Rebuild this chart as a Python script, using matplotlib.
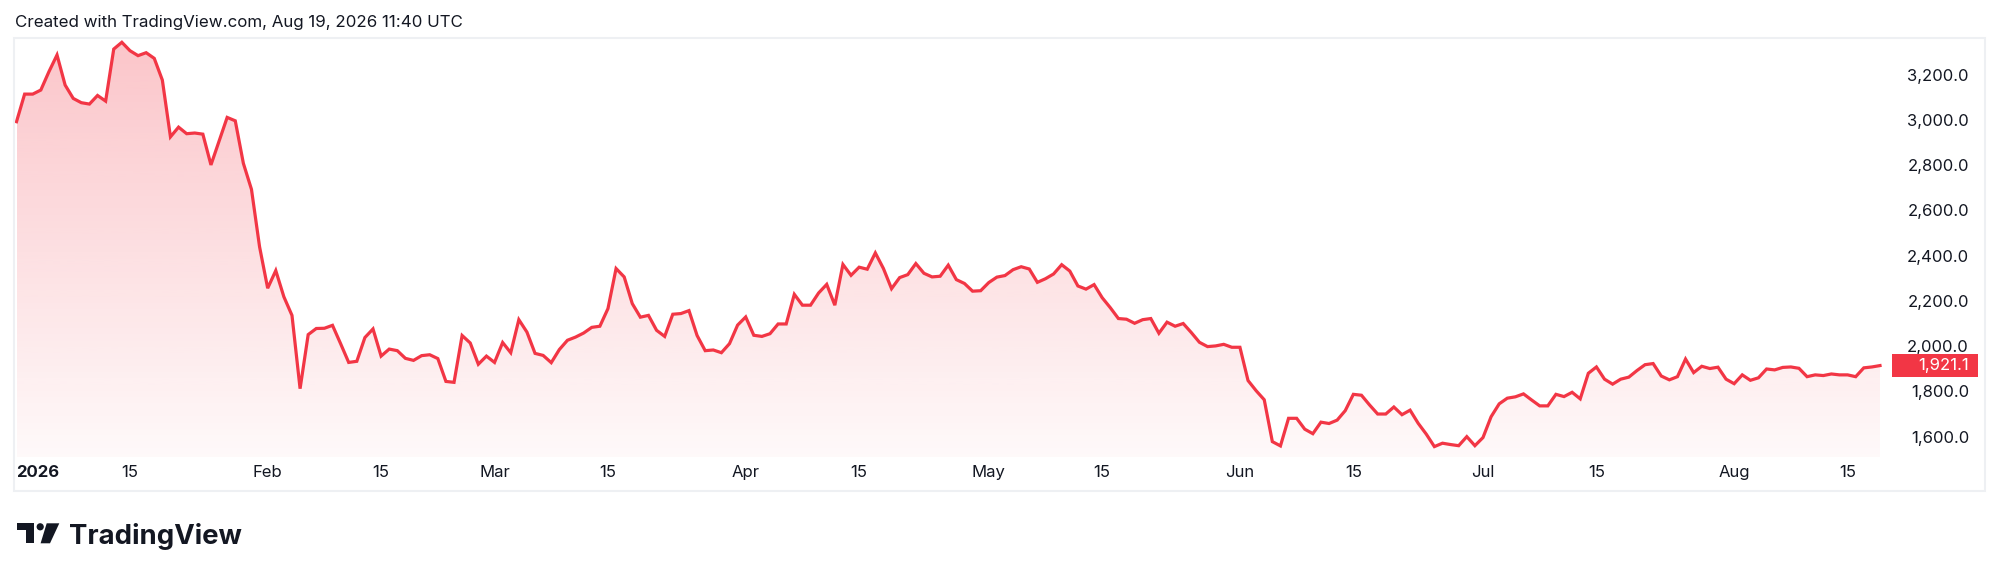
import numpy as np
import pandas as pd
import matplotlib
matplotlib.use("Agg")
import matplotlib.pyplot as plt
import matplotlib.dates as mdates
import matplotlib.transforms as mtransforms
from matplotlib.patches import Rectangle, Circle, Polygon

# daily closes, 2026-01-01 .. 2026-08-19
jan = [2999, 3121, 3121, 3139, 3220, 3294, 3161, 3102, 3083, 3077, 3115, 3090, 3320, 3350,
       3313, 3291, 3304, 3279, 3183, 2932, 2975, 2946, 2949, 2944, 2808, 2913, 3018, 3003,
       2815, 2700, 2446]
feb = [2263, 2341, 2225, 2143, 1819, 2058, 2085, 2086, 2099, 2018, 1935, 1940, 2045, 2083,
       1963, 1994, 1987, 1953, 1944, 1965, 1969, 1952, 1851, 1847, 2054, 2021, 1927, 1963]
mar = [1935, 2023, 1978, 2124, 2069, 1975, 1966, 1934, 1992, 2033, 2047, 2065, 2090, 2095,
       2173, 2350, 2313, 2195, 2135, 2143, 2077, 2050, 2148, 2151, 2164, 2054, 1987, 1990,
       1978, 2018, 2100]
apr = [2136, 2055, 2050, 2062, 2105, 2105, 2236, 2188, 2188, 2242, 2280, 2188, 2368, 2320,
       2356, 2347, 2419, 2350, 2261, 2310, 2323, 2372, 2329, 2313, 2316, 2365, 2301, 2284,
       2250, 2252]
may = [2288, 2312, 2319, 2345, 2358, 2348, 2289, 2305, 2326, 2367, 2339, 2273, 2259, 2279,
       2221, 2177, 2129, 2126, 2108, 2124, 2129, 2064, 2113, 2095, 2107, 2067, 2024, 2005,
       2008, 2015, 2002]
jun = [2002, 1855, 1810, 1770, 1585, 1566, 1688, 1688, 1640, 1620, 1671, 1665, 1680, 1722,
       1794, 1790, 1747, 1707, 1707, 1738, 1704, 1724, 1666, 1618, 1563, 1578, 1572, 1567,
       1607, 1567]
jul = [1603, 1695, 1752, 1777, 1783, 1796, 1769, 1743, 1743, 1794, 1784, 1803, 1774, 1887,
       1915, 1861, 1839, 1861, 1870, 1899, 1925, 1930, 1875, 1858, 1872, 1950, 1890, 1918,
       1908, 1914, 1861]
aug = [1841, 1880, 1856, 1867, 1906, 1902, 1913, 1915, 1909, 1872, 1880, 1877, 1884, 1880,
       1880, 1872, 1911, 1915, 1921.1]

prices = np.array(jan + feb + mar + apr + may + jun + jul + aug, dtype=float)
dates = pd.date_range("2026-01-01", periods=len(prices), freq="D")

tick_dates = ["2026-01-01", "2026-01-15", "2026-02-01", "2026-02-15", "2026-03-01",
              "2026-03-15", "2026-04-01", "2026-04-15", "2026-05-01", "2026-05-15",
              "2026-06-01", "2026-06-15", "2026-07-01", "2026-07-15", "2026-08-01",
              "2026-08-15"]
tick_labels = ["2026", "15", "Feb", "15", "Mar", "15", "Apr", "15", "May", "15",
               "Jun", "15", "Jul", "15", "Aug", "15"]
price_ticks = [1600, 1800, 2000, 2200, 2400, 2600, 2800, 3000, 3200]

RED = "#F23645"
TXT = "#131722"
plt.rcParams["font.family"] = ["Inter", "DejaVu Sans"]

W, H = 2000, 577
fig = plt.figure(figsize=(W / 100, H / 100), dpi=100)
fig.patch.set_facecolor("white")


def fx(px):
    return px / W


def fy(py):
    return 1 - py / H


ax = fig.add_axes([fx(14), fy(457), fx(1985) - fx(14), fy(38) - fy(457)])
x = mdates.date2num(dates)
ylo, yhi = 1517, 3369

ax.plot(x, prices, color=RED, lw=2.3, zorder=3, solid_joinstyle="miter")

# gradient area under the line
rgb = matplotlib.colors.to_rgb(RED)
grad = np.zeros((256, 1, 4))
grad[..., :3] = rgb
grad[..., 3] = np.linspace(0.29, 0.03, 256)[:, None]
im = ax.imshow(grad, aspect="auto", extent=[x[0], x[-1], ylo, yhi], origin="upper", zorder=1)
area = ax.fill_between(x, prices, ylo, facecolor="none", edgecolor="none")
im.set_clip_path(area.get_paths()[0], ax.transData)

ax.set_xlim(x[0] - 0.31, x[0] + 242.96)
ax.set_ylim(ylo, yhi)
for s in ax.spines.values():
    s.set_visible(False)
ax.set_yticks([])
ax.set_xticks(mdates.date2num(pd.to_datetime(tick_dates)))
ax.set_xticklabels(tick_labels, fontsize=12, color=TXT)
ax.tick_params(axis="x", length=0, pad=6)
lbls = ax.get_xticklabels()
lbls[0].set_fontweight("bold")
lbls[0].set_ha("left")

# price scale labels
tr = mtransforms.blended_transform_factory(ax.transAxes, ax.transData)
xr = (1969 - 14) / (1985 - 14)
for p in price_ticks:
    ax.text(xr, p, f"{p:,.1f}", transform=tr, ha="right", va="center",
            fontsize=12, color=TXT, zorder=4)

# last price badge
last = prices[-1]
x0b = (1892 - 14) / (1985 - 14)
x1b = (1978 - 14) / (1985 - 14)
ax.add_patch(Rectangle((x0b, last - 51), x1b - x0b, 102, transform=tr,
                       facecolor=RED, edgecolor="none", zorder=5, clip_on=False))
ax.text(xr, last, f"{last:,.1f}", transform=tr, ha="right", va="center",
        fontsize=12, color="white", zorder=6)

# overlay in pixel coordinates for header, frame and logo
ov = fig.add_axes([0, 0, 1, 1], zorder=10)
ov.set_xlim(0, W)
ov.set_ylim(H, 0)
ov.axis("off")
ov.patch.set_visible(False)
ov.add_patch(Rectangle((14, 38), 1971, 453, facecolor="none", edgecolor="#eef0f3", lw=1.5))
ov.text(15, 22, "Created with TradingView.com, Aug 19, 2026 11:40 UTC", fontsize=12.2,
        color=TXT, ha="left", va="center")

# TradingView mark
ov.add_patch(Polygon([(16.7, 523.3), (34.3, 523.3), (34.3, 543.3), (25.5, 543.3),
                      (25.5, 529.5), (16.7, 529.5)],
                     closed=True, facecolor=TXT, edgecolor="none"))
ov.add_patch(Circle((40.2, 526.8), 3.6, facecolor=TXT, edgecolor="none"))
ov.add_patch(Polygon([(46.7, 523.3), (59.3, 523.3), (50, 543.3), (40.6, 543.3)],
                     closed=True, facecolor=TXT, edgecolor="none"))
ov.text(69, 544.3, "TradingView", fontsize=19.8, fontweight="bold", color=TXT,
        ha="left", va="baseline")

fig.savefig("out.png", dpi=100, facecolor="white")
